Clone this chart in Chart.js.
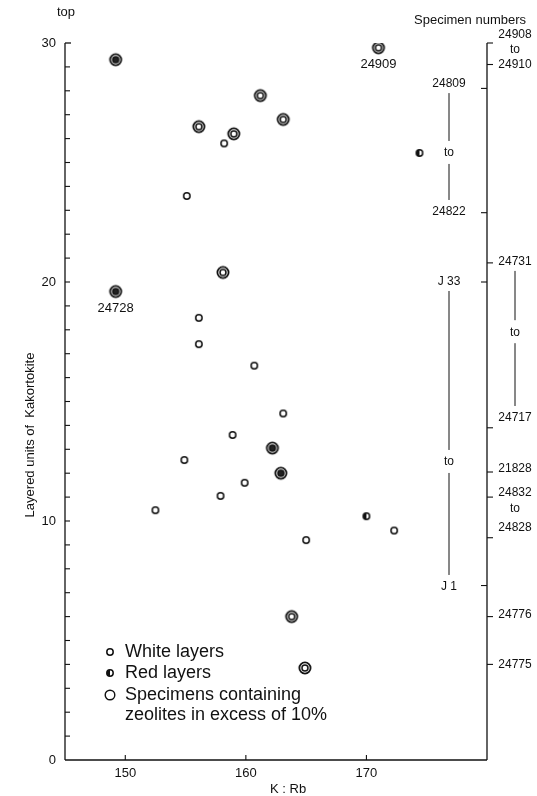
<!DOCTYPE html>
<html>
<head>
<meta charset="utf-8">
<script src="https://cdn.jsdelivr.net/npm/chart.js@4"></script>
<style>
  html, body { margin: 0; padding: 0; background: #fff; }
</style>
</head>
<body>
<canvas id="chart" width="537" height="796"></canvas>
<script>
(function () {
  'use strict';

  // ── Data (K:Rb against layered unit) ─────────────────────────────────────────
  const whiteX = [158.2, 155.1, 156.1, 156.1, 160.7, 163.1, 158.9, 154.9, 159.9, 157.9, 152.5, 172.3, 165.0];
  const whiteY = [25.8, 23.6, 18.5, 17.4, 16.5, 14.5, 13.6, 12.55, 11.6, 11.05, 10.45, 9.6, 9.2];
  const redX   = [174.4, 170.0];
  const redY   = [25.4, 10.2];
  const zeoWhiteX = [171.0, 161.2, 163.1, 156.1, 159.0, 158.1, 163.8, 164.9];
  const zeoWhiteY = [29.8, 27.8, 26.8, 26.5, 26.2, 20.4, 6.0, 3.85];
  const zeoRedX   = [149.2, 149.2, 162.2, 162.9];
  const zeoRedY   = [29.3, 19.6, 13.05, 12.0];

  const tagText = ['24909', '24728'];
  const tagX    = [171.0, 149.2];
  const tagY    = [29.8, 19.6];

  const xTicks = [150, 160, 170];
  const yTicks = [0, 10, 20, 30];

  // specimen number column (right): [first, last, firstY, toY, lastY]
  const outerRanges  = [['24908', '24910', 30.33, 29.7, 29.08],
                        ['24731', '24717', 20.84, 17.9, 14.31],
                        ['24832', '24828', 11.17, 10.5, 9.71]];
  const outerSingles = [['21828', 12.2], ['24776', 6.07], ['24775', 3.97]];
  const innerRanges  = [['24809', '24822', 28.28, 25.4, 22.93],
                        ['J 33', 'J 1', 20.0, 12.47, 7.24]];
  const outerTickY = [30, 29.1, 20.8, 13.9, 12.05, 11.0, 9.3, 6.0, 4.0];
  const innerTickY = [28.1, 22.9, 20.0, 7.3];

  const INK  = '#111';
  const FONT = '"Liberation Sans", Arial, sans-serif';

  // ── Marker images ──────────────────────────────────────────────────────────
  function makeMarker(kind) {
    const c = document.createElement('canvas');
    c.width = 16; c.height = 16;
    const g = c.getContext('2d');
    g.strokeStyle = INK;
    if (kind === 'white' || kind === 'red') {
      g.lineWidth = 1.5;
      g.beginPath(); g.arc(8, 8, 3.2, 0, Math.PI * 2);
      g.fillStyle = '#fff'; g.fill(); g.stroke();
      if (kind === 'red') {
        g.beginPath(); g.arc(8, 8, 3.2, Math.PI / 2, Math.PI * 1.5); g.closePath();
        g.fillStyle = INK; g.fill();
      }
    } else if (kind === 'ring') {
      g.lineWidth = 1.4;
      g.beginPath(); g.arc(8, 8, 4.8, 0, Math.PI * 2); g.stroke();
    } else {
      g.lineWidth = 1.8;
      g.beginPath(); g.arc(8, 8, 5.6, 0, Math.PI * 2); g.stroke();
      g.lineWidth = 1.5;
      g.beginPath(); g.arc(8, 8, 3.0, 0, Math.PI * 2);
      if (kind === 'zeoRed') { g.fillStyle = '#222'; g.fill(); }
      g.stroke();
    }
    return c;
  }
  const mWhite = makeMarker('white'), mRed = makeMarker('red');
  const mZeoW = makeMarker('zeoWhite'), mZeoR = makeMarker('zeoRed'), mRing = makeMarker('ring');

  const pts = (xs, ys) => xs.map((v, i) => ({ x: v, y: ys[i] }));

  // ── Frame, ticks, annotations ──────────────────────────────────────────────
  const decor = {
    id: 'decor',
    afterDraw(chart) {
      const { ctx, chartArea: a, scales: { x, y } } = chart;
      const line = (x1, y1, x2, y2) => { ctx.beginPath(); ctx.moveTo(x1, y1); ctx.lineTo(x2, y2); ctx.stroke(); };
      const text = (t, px, py, size, align) => {
        ctx.font = size + 'px ' + FONT; ctx.textAlign = align || 'center';
        ctx.fillText(t, px, py);
      };
      ctx.save();
      ctx.strokeStyle = INK; ctx.fillStyle = INK; ctx.textBaseline = 'middle';
      ctx.lineWidth = 1.3;
      line(a.left, a.top, a.left, a.bottom);
      line(a.left, a.bottom, a.right, a.bottom);
      line(a.right, a.top, a.right, a.bottom);
      line(a.left, a.top, a.left + 6, a.top);

      ctx.lineWidth = 1.1;
      for (let v = 1; v < 30; v++) { const py = y.getPixelForValue(v); line(a.left, py, a.left + 5, py); }
      xTicks.forEach(v => { const px = x.getPixelForValue(v); line(px, a.bottom, px, a.bottom - 5); });
      outerTickY.forEach(v => { const py = y.getPixelForValue(v); line(a.right, py, a.right + 6, py); });
      innerTickY.forEach(v => { const py = y.getPixelForValue(v); line(a.right - 6, py, a.right, py); });

      // specimen columns
      ctx.lineWidth = 1;
      function drawRange(cx, r) {
        const [t1, t2, v1, vTo, v2] = r;
        const p1 = y.getPixelForValue(v1), pt = y.getPixelForValue(vTo), p2 = y.getPixelForValue(v2);
        text(t1, cx, p1, 12); text('to', cx, pt, 12); text(t2, cx, p2, 12);
        if (pt - 12 - (p1 + 9) > 4) line(cx, p1 + 9, cx, pt - 12);
        if (p2 - 12 - (pt + 11) > 4) line(cx, pt + 11, cx, p2 - 12);
      }
      outerRanges.forEach(r => drawRange(a.right + 28, r));
      innerRanges.forEach(r => drawRange(a.right - 38, r));
      outerSingles.forEach(([t, v]) => text(t, a.right + 28, y.getPixelForValue(v), 12));

      text('Specimen numbers', a.right - 17, 20, 13);
      text('top', a.left + 1, 12, 13);

      // tagged specimens
      tagText.forEach((t, i) => text(t, x.getPixelForValue(tagX[i]), y.getPixelForValue(tagY[i]) + 17, 13));

      // axis titles
      text('K : Rb', x.getPixelForValue(163.5), 789, 13);
      ctx.save();
      ctx.translate(30, 435); ctx.rotate(-Math.PI / 2);
      text('Layered units of  Kakortokite', 0, 0, 13);
      ctx.restore();

      // legend
      const lx = a.left + 45;
      const rows = [[mWhite, 'White layers', 652], [mRed, 'Red layers', 673],
                    [mRing, 'Specimens containing', 695], [null, 'zeolites in excess of 10%', 715]];
      rows.forEach(([m, t, py]) => {
        if (m) ctx.drawImage(m, lx - 8, py - 8);
        text(t, lx + 15, py, 18, 'left');
      });
      ctx.restore();
    }
  };

  new Chart(document.getElementById('chart'), {
    type: 'scatter',
    data: {
      datasets: [
        { label: 'White layers', data: pts(whiteX, whiteY), pointStyle: mWhite, pointRadius: 4 },
        { label: 'Red layers', data: pts(redX, redY), pointStyle: mRed, pointRadius: 4 },
        { label: 'Zeolite (white)', data: pts(zeoWhiteX, zeoWhiteY), pointStyle: mZeoW, pointRadius: 6 },
        { label: 'Zeolite (red)', data: pts(zeoRedX, zeoRedY), pointStyle: mZeoR, pointRadius: 6 }
      ]
    },
    options: {
      responsive: false,
      animation: false,
      layout: { padding: { top: 43, right: 50, left: 0, bottom: 0 } },
      plugins: { legend: { display: false }, tooltip: { enabled: false } },
      scales: {
        x: {
          type: 'linear', min: 145, max: 180,
          afterBuildTicks: s => { s.ticks = xTicks.map(v => ({ value: v })); },
          afterFit: s => { s.height = 36; },
          grid: { display: false, drawTicks: false },
          border: { display: false },
          ticks: { color: INK, padding: 6, maxRotation: 0, font: { family: FONT, size: 13 } }
        },
        y: {
          min: 0, max: 30,
          afterBuildTicks: s => { s.ticks = yTicks.map(v => ({ value: v })); },
          afterFit: s => { s.width = 65; },
          grid: { display: false, drawTicks: false },
          border: { display: false },
          ticks: { color: INK, padding: 9, font: { family: FONT, size: 13 } }
        }
      }
    },
    plugins: [decor]
  });
})();
</script>
</body>
</html>
